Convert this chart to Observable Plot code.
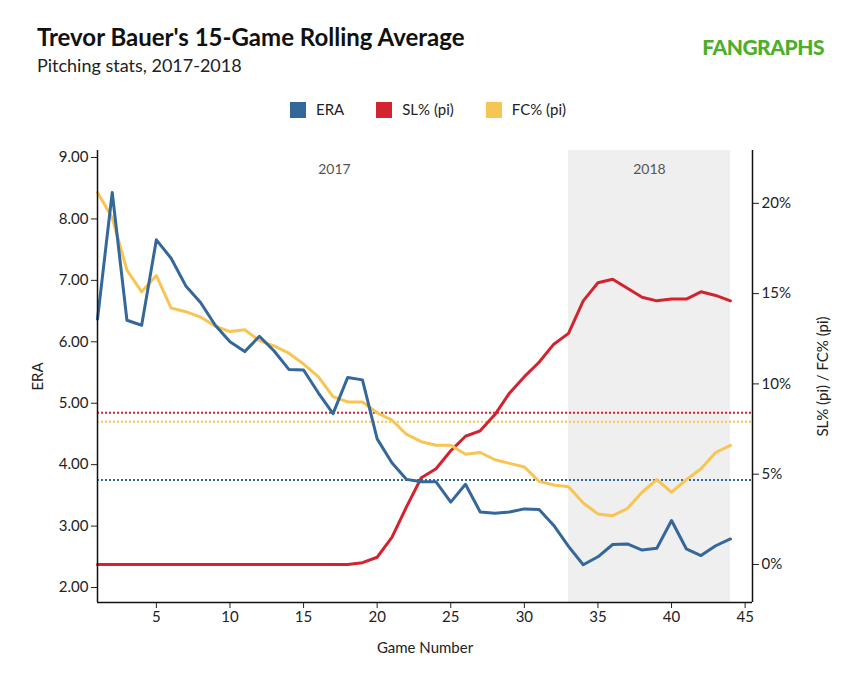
<!DOCTYPE html>
<html><head><meta charset="utf-8">
<script src="https://cdn.jsdelivr.net/npm/d3@7"></script>
<script src="https://cdn.jsdelivr.net/npm/@observablehq/plot@0.6"></script>
<style>
body{margin:0;font-family:Lato,sans-serif;background:#fff;}
#wrap{position:relative;width:856px;height:676px;}
h1{position:absolute;left:37px;top:22px;margin:0;font-size:24px;font-weight:bold;color:#111;}
.sub{position:absolute;left:37px;top:54px;font-size:18px;color:#222;}
.logo{position:absolute;right:32px;top:34px;font-size:21px;font-weight:900;color:#4caf2a;letter-spacing:-0.5px;}
.legend{position:absolute;top:100px;left:0;width:856px;text-align:center;font-size:15px;color:#222;}
.legend span{margin:0 16px;}
.legend i{display:inline-block;width:16px;height:16px;vertical-align:-3px;margin-right:10px;}
#chart{position:absolute;left:0;top:140px;}
</style></head><body>
<div id="wrap">
<h1>Trevor Bauer's 15-Game Rolling Average</h1>
<div class="sub">Pitching stats, 2017-2018</div>
<div class="logo">FANGRAPHS</div>
<div class="legend"><span><i style="background:#34679a"></i>ERA</span><span><i style="background:#d2232f"></i>SL% (pi)</span><span><i style="background:#f8c452"></i>FC% (pi)</span></div>
<div id="chart"></div>
</div>
<script>
const games = d3.range(1,45);
const era = [6.37,8.43,6.35,6.27,7.66,7.36,6.91,6.64,6.27,6.00,5.84,6.09,5.85,5.55,5.54,5.17,4.83,5.42,5.38,4.42,4.03,3.76,3.72,3.72,3.39,3.68,3.23,3.21,3.23,3.28,3.27,3.01,2.67,2.37,2.50,2.70,2.71,2.61,2.64,3.09,2.63,2.52,2.68,2.79];
const sl = [0,0,0,0,0,0,0,0,0,0,0,0,0,0,0,0,0,0,0.1,0.4,1.5,3.2,4.8,5.3,6.3,7.1,7.4,8.3,9.5,10.4,11.2,12.2,12.8,14.6,15.6,15.8,15.3,14.8,14.6,14.7,14.7,15.1,14.9,14.6];
const fc = [20.6,19.2,16.3,15.1,16.0,14.2,14.0,13.7,13.2,12.9,13.0,12.4,12.1,11.7,11.1,10.4,9.3,9.0,9.0,8.4,8.0,7.2,6.8,6.6,6.6,6.1,6.2,5.8,5.6,5.4,4.6,4.4,4.3,3.4,2.8,2.7,3.1,4.0,4.7,4.0,4.7,5.3,6.2,6.6];
const avgEra = 3.75, avgSl = 8.4, avgFc = 7.9;
const eraTicks = [2,3,4,5,6,7,8,9];
const pctTicks = [0,5,10,15,20];
const xTicks = [5,10,15,20,25,30,35,40,45];
const seasons = [{x1:1,x2:33,label:"2017"},{x1:33,x2:44,label:"2018"}];
const yMin = 1.756, yMax = 9.114;
const p2e = p => 2.375 + p*0.29395;
const dEra = games.map((g,i)=>({g,v:era[i]}));
const dSl = games.map((g,i)=>({g,v:p2e(sl[i])}));
const dFc = games.map((g,i)=>({g,v:p2e(fc[i])}));
const chart = Plot.plot({
  width:856, height:532, marginLeft:97, marginRight:104, marginTop:10, marginBottom:70,
  style:{fontFamily:"Lato,sans-serif",fontSize:"14px",color:"#222"},
  x:{domain:[1,45.5]},
  y:{domain:[yMin,yMax]},
  marks:[
    Plot.rectY([seasons[1]],{x1:"x1",x2:"x2",y1:yMin,y2:yMax,fill:"#efefef"}),
    Plot.text(seasons,{x:d=>(d.label==="2017"?17.1:38.5),y:8.8,text:"label",fill:"#555",fontSize:14}),
    Plot.ruleY([avgSl],{y:d=>p2e(d),stroke:"#d2232f",strokeWidth:2,strokeDasharray:"2,2"}),
    Plot.ruleY([avgFc],{y:d=>p2e(d),stroke:"#f8c452",strokeWidth:2,strokeDasharray:"2,2"}),
    Plot.ruleY([avgEra],{stroke:"#34679a",strokeWidth:2,strokeDasharray:"2,2"}),
    Plot.line(dSl,{x:"g",y:"v",stroke:"#d2232f",strokeWidth:3}),
    Plot.line(dFc,{x:"g",y:"v",stroke:"#f8c452",strokeWidth:3}),
    Plot.line(dEra,{x:"g",y:"v",stroke:"#34679a",strokeWidth:3}),
    Plot.axisY(eraTicks,{anchor:"left",tickFormat:d=>d.toFixed(2),label:"ERA",labelAnchor:"center",labelArrow:"none",labelOffset:65,tickSize:6,fontSize:15}),
    Plot.axisY(pctTicks.map(p2e),{anchor:"right",tickFormat:(d,i)=>pctTicks[i]+"%",label:"SL% (pi) / FC% (pi)",labelAnchor:"center",labelArrow:"none",labelOffset:75,tickSize:6,fontSize:15}),
    Plot.axisX(xTicks,{label:"Game Number",labelAnchor:"center",labelArrow:"none",labelOffset:50,tickSize:6,fontSize:15}),
    Plot.ruleX([1,45.5],{stroke:"#111",strokeWidth:1.5}),
    Plot.ruleY([yMin],{stroke:"#111",strokeWidth:1.5})
  ]
});
document.getElementById("chart").appendChild(chart);
</script>
</body></html>
